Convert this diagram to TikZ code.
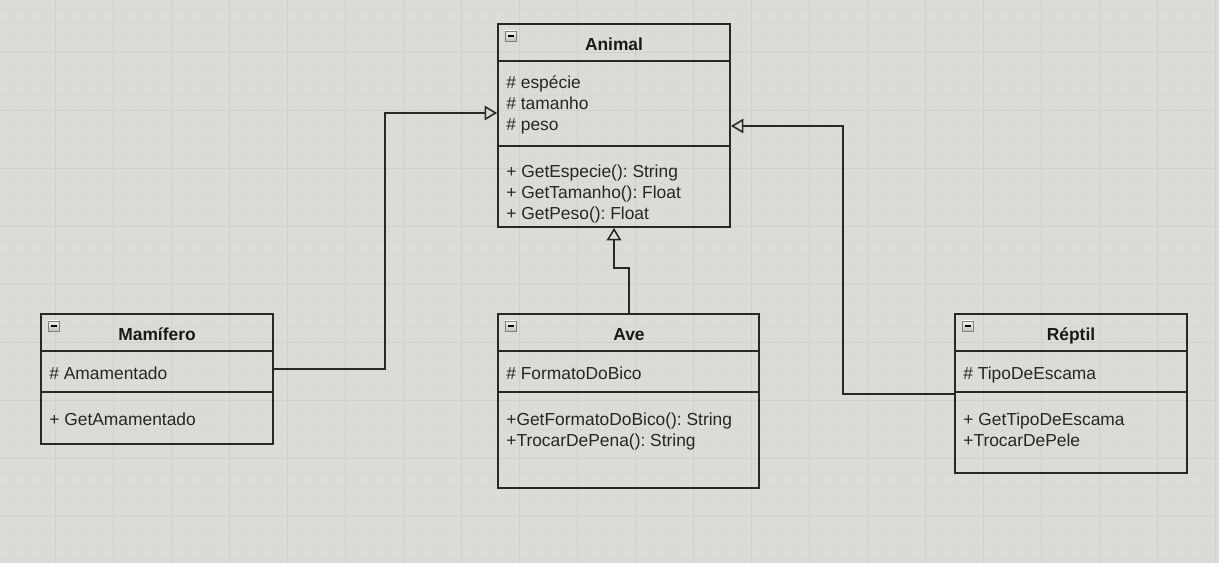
\documentclass[tikz,border=0pt]{standalone}
\usepackage{fontspec}
\setmainfont{Liberation Sans}
\usetikzlibrary{arrows.meta,fit}

\definecolor{canvas}{RGB}{220,219,214}
\definecolor{gridminor}{RGB}{217,216,211}
\definecolor{gridmajor}{RGB}{209,208,203}
\definecolor{umlline}{RGB}{40,40,40}

\tikzset{
    classbox/.style={draw=umlline, line width=1pt, inner sep=0pt},
    classname/.style={font=\fontsize{9.9}{11}\selectfont\bfseries, inner sep=0pt, anchor=base, text=black!90},
    member/.style={font=\fontsize{9.9}{11}\selectfont, anchor=base west, inner sep=0pt, text=black!85},
    divider/.style={draw=umlline, line width=1pt},
    inherit/.style={draw=umlline, line width=0.9pt, -{Triangle[open, length=0.25cm, width=0.29cm]}},
    collapsebox/.style={draw=black!50, top color=black!5, bottom color=black!25, line width=0.5pt},
}

\newcommand{\collapseicon}[2]{%
    \draw[collapsebox] (#1,#2) rectangle ++(11,10);
    \draw[line width=1pt] (#1+2.5,#2+5) -- ++(6,0);
}

\begin{document}
\frenchspacing
\begin{tikzpicture}[x=0.02cm, y=-0.02cm]
        \fill[canvas] (0,0) rectangle (1219,563);
        \useasboundingbox (0,0) rectangle (1219,563);
        \foreach \g in {0,...,84} {
            \draw[gridminor, line width=0.3pt] (-3+\g*14.5,0) -- (-3+\g*14.5,563);
        }
        \foreach \g in {0,...,39} {
            \draw[gridminor, line width=0.3pt] (0,-6+\g*14.5) -- (1219,-6+\g*14.5);
        }
        \foreach \g in {0,...,21} {
            \draw[gridmajor, line width=0.5pt] (-3+\g*58,0) -- (-3+\g*58,563);
        }
        \foreach \g in {0,...,9} {
            \draw[gridmajor, line width=0.5pt] (0,-6+\g*58) -- (1219,-6+\g*58);
        }

        % Animal
        \node[classbox, fit={(498,24) (730,227)}] (animal) {};
        \draw[divider] (498,61) -- (730,61);
        \draw[divider] (498,146) -- (730,146);
        \collapseicon{505}{31}
        \node[classname] (animalname) at (614,51) {Animal};
        \node[member] (animala1) at (506,89) {\# espécie};
        \node[member] (animala2) at (506,110) {\# tamanho};
        \node[member] (animala3) at (506,131) {\# peso};
        \node[member] (animalm1) at (506,178) {+ GetEspecie(): String};
        \node[member] (animalm2) at (506,199) {+ GetTamanho(): Float};
        \node[member] (animalm3) at (506,220) {+ GetPeso(): Float};

        % Mamifero
        \node[classbox, fit={(41,314) (273,444)}] (mamifero) {};
        \draw[divider] (41,351) -- (273,351);
        \draw[divider] (41,392) -- (273,392);
        \collapseicon{48}{321}
        \node[classname] (mamiferoname) at (157,341) {Mamífero};
        \node[member] (mamiferoa1) at (49,379) {\# Amamentado};
        \node[member] (mamiferom1) at (49,425) {+ GetAmamentado};

        % Ave
        \node[classbox, fit={(498,314) (759,488)}] (ave) {};
        \draw[divider] (498,351) -- (759,351);
        \draw[divider] (498,392) -- (759,392);
        \collapseicon{505}{321}
        \node[classname] (avename) at (629,341) {Ave};
        \node[member] (avea1) at (506,379) {\# FormatoDoBico};
        \node[member] (avem1) at (506,425) {+GetFormatoDoBico(): String};
        \node[member] (avem2) at (506,446) {+TrocarDePena(): String};

        % Reptil
        \node[classbox, fit={(955,314) (1187,473)}] (reptil) {};
        \draw[divider] (955,351) -- (1187,351);
        \draw[divider] (955,392) -- (1187,392);
        \collapseicon{962}{321}
        \node[classname] (reptilname) at (1071,341) {Réptil};
        \node[member] (reptila1) at (963,379) {\# TipoDeEscama};
        \node[member] (reptilm1) at (963,425) {+ GetTipoDeEscama};
        \node[member] (reptilm2) at (963,446) {+TrocarDePele};

        % heranca
        \draw[inherit] (mamifero.east |- 0,369) -- (385,369) -- (385,113) -- (animal.west |- 0,113);
        \draw[inherit] (ave.north -| 629,0) -- (629,268) -- (614,268) -- (animal.south -| 614,0);
        \draw[inherit] (reptil.west |- 0,394) -- (843,394) -- (843,126) -- (animal.east |- 0,126);
    \end{tikzpicture}
\end{document}
